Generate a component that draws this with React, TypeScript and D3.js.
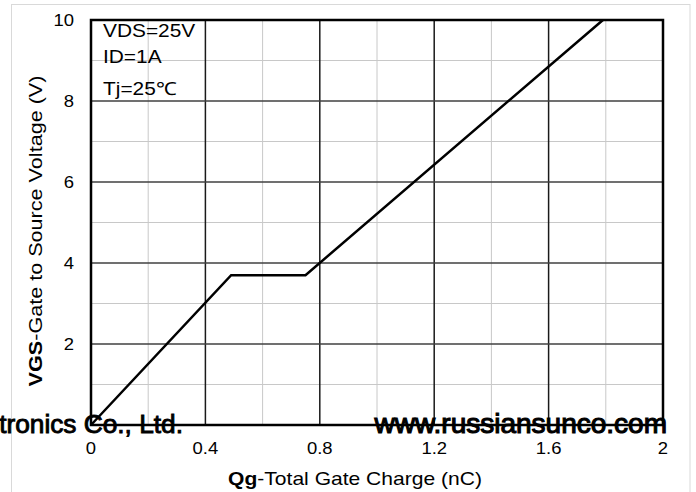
import React from "react";
import * as d3 from "d3";

const qg = [0, 0.49, 0.75, 1.79];
const vgs = [0, 3.7, 3.7, 10];
const xTicks = [0, 0.4, 0.8, 1.2, 1.6, 2];
const xMinor = [0.2, 0.6, 1.0, 1.4, 1.8];
const yTicks = [2, 4, 6, 8, 10];
const yMinor = [1, 3, 5, 7, 9];
const legendLines = ["VDS=25V", "ID=1A", "Tj=25\u2103"];

const W = 696;
const H = 492;
const M = { left: 91, right: 663, top: 20, bottom: 425 };
const FONT = "'Liberation Sans', Arial, sans-serif";

export default function App() {
  const x = d3.scaleLinear().domain([0, 2]).range([M.left, M.right]);
  const y = d3.scaleLinear().domain([0, 10]).range([M.bottom, M.top]);
  const pts = qg.map((q, i) => [q, vgs[i]] as [number, number]);
  const line = d3
    .line<[number, number]>()
    .x((d) => x(d[0]))
    .y((d) => y(d[1]));

  const tr = (tx: number, ty: number, sx: number) => `translate(${tx},${ty}) scale(${sx},1)`;

  return (
    <div style={{ position: "absolute", left: 0, top: 0 }}>
      <svg width={W} height={H} style={{ display: "block", fontFamily: FONT }}>
        <rect x={0} y={0} width={W} height={H} fill="#fff" />
        <rect x={11.5} y={4.5} width={678.5} height={H + 20} fill="none" stroke="#d9d9d9" strokeWidth={1} />
        {/* minor grid */}
        {xMinor.map((v) => (
          <line key={"xm" + v} x1={x(v)} x2={x(v)} y1={M.top} y2={M.bottom} stroke="#c8c8c8" strokeWidth={1} />
        ))}
        {yMinor.map((v) => (
          <line key={"ym" + v} x1={M.left} x2={M.right} y1={y(v)} y2={y(v)} stroke="#c8c8c8" strokeWidth={1} />
        ))}
        {/* major grid */}
        {xTicks.slice(1, -1).map((v) => (
          <line key={"xM" + v} x1={x(v)} x2={x(v)} y1={M.top} y2={M.bottom} stroke="#1a1a1a" strokeWidth={1.5} />
        ))}
        {yTicks.slice(0, -1).map((v) => (
          <line key={"yM" + v} x1={M.left} x2={M.right} y1={y(v)} y2={y(v)} stroke="#404040" strokeWidth={1.5} />
        ))}
        {/* frame */}
        <rect x={M.left} y={M.top} width={M.right - M.left} height={M.bottom - M.top} fill="none" stroke="#000" strokeWidth={2.5} />
        {/* curve */}
        <path d={line(pts) || ""} fill="none" stroke="#000" strokeWidth={2.5} strokeLinejoin="miter" />
        {/* legend */}
        {legendLines.map((t, i) => (
          <text key={t} transform={tr(103, [37, 63, 95][i], 1.16)} fontSize={18} fill="#000">
            {t}
          </text>
        ))}
        {/* y tick labels */}
        {yTicks.map((v) => (
          <text key={"yl" + v} transform={tr(74, y(v) + 6, 1.12)} fontSize={16.5} textAnchor="end" fill="#000">
            {v}
          </text>
        ))}
        {/* x tick labels */}
        {xTicks.map((v) => (
          <text key={"xl" + v} transform={tr(x(v), 454, 1.12)} fontSize={16.5} textAnchor="middle" fill="#000">
            {String(v)}
          </text>
        ))}
        {/* axis titles */}
        <text transform={tr(355, 485, 1.17)} fontSize={18} textAnchor="middle" fill="#000">
          <tspan fontWeight="bold">Qg</tspan>-Total Gate Charge (nC)
        </text>
        <text transform={`translate(42,231) rotate(-90) scale(1.2,1)`} fontSize={18} textAnchor="middle" fill="#000">
          <tspan fontWeight="bold">VGS</tspan>-Gate to Source Voltage (V)
        </text>
        {/* watermark texts */}
        <text transform={tr(183, 433, 1.01)} fontSize={26} textAnchor="end" fill="#000" stroke="#000" strokeWidth={0.9}>
          tronics Co., Ltd.
        </text>
        <text x={667} y={433} fontSize={28} textAnchor="end" fill="#000" stroke="#000" strokeWidth={1.1}>
          www.russiansunco.com
        </text>
      </svg>
    </div>
  );
}
